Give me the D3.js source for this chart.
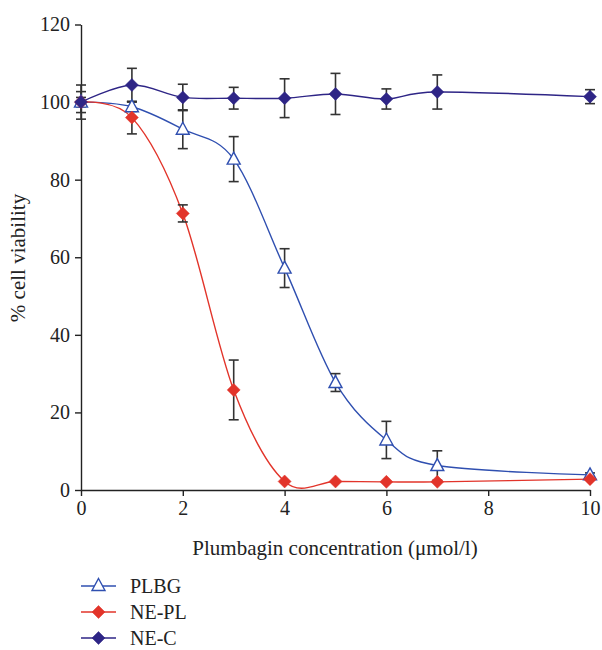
<!DOCTYPE html>
<html><head><meta charset="utf-8">
<script src="https://cdn.jsdelivr.net/npm/d3@7"></script>
<style>body{margin:0;background:#fff}svg{display:block}text{font-family:"Liberation Serif","DejaVu Serif",serif;fill:#222}</style>
</head><body>
<script>
const conc = [0,1,2,3,4,5,6,7,10];
const plbg = [100,98.8,93,85.3,57.2,27.7,12.9,6.3,3.9];
const plbgErr = [2.7,1.2,5,5.8,5,2.3,4.8,3.8,0.5];
const nepl = [100,96,71.3,25.8,2.2,2.2,2.1,2.1,2.8];
const neplErr = [1.2,4.2,2.2,7.7,0,0,0,0,0];
const nec = [100,104.4,101.2,101,101,102.1,100.8,102.6,101.4];
const necErr = [4.4,4.3,3.4,2.8,5,5.3,2.6,4.4,1.8];
const xTicks = [0,2,4,6,8,10];
const yTicks = [0,20,40,60,80,100,120];
const seriesNames = ["PLBG","NE-PL","NE-C"];
const colors = ["#2f4fb0","#e2342a","#2e2586"];

const W=602,H=650;
const svg=d3.select("body").append("svg").attr("width",W).attr("height",H);
const x=d3.scaleLinear().domain([0,10]).range([81,590]);
const y=d3.scaleLinear().domain([0,120]).range([490,24.5]);

const series=[
 {name:seriesNames[0],v:plbg,e:plbgErr,c:colors[0],m:"tri"},
 {name:seriesNames[1],v:nepl,e:neplErr,c:colors[1],m:"dia"},
 {name:seriesNames[2],v:nec,e:necErr,c:colors[2],m:"dia"}
];

const FS="20px", FT="21px";
const xa=svg.append("g").attr("transform","translate(0,490)")
 .call(d3.axisBottom(x).tickValues(xTicks).tickSize(6).tickSizeOuter(0).tickPadding(5));
const ya=svg.append("g").attr("transform","translate(81,0)")
 .call(d3.axisLeft(y).tickValues(yTicks).tickSize(6).tickSizeOuter(0).tickPadding(5));
[xa,ya].forEach(a=>{a.attr("font-size",null).attr("font-family",null);
 a.selectAll("path,line").attr("stroke","#222").attr("stroke-width",1.4);
 a.selectAll("text").style("font-size",FS).attr("fill","#222");});

svg.append("text").attr("x",335).attr("y",555).attr("text-anchor","middle").style("font-size",FT).text("Plumbagin concentration (\u03bcmol/l)");
svg.append("text").attr("transform","translate(25,258) rotate(-90)").attr("text-anchor","middle").style("font-size",FT).text("% cell viability");

const line=d3.line().x((d,i)=>x(conc[i])).y(d=>y(d)).curve(d3.curveCatmullRom.alpha(0));
series.forEach(s=>{
 svg.append("path").attr("d",line(s.v)).attr("fill","none").attr("stroke",s.c).attr("stroke-width",1.4);
});
series.forEach(s=>{
 const g=svg.append("g").attr("stroke","#333").attr("stroke-width",1.6);
 s.v.forEach((v,i)=>{
  if(!s.e[i]) return;
  const cx=x(conc[i]), t=y(v+s.e[i]), b=y(v-s.e[i]);
  g.append("line").attr("x1",cx).attr("x2",cx).attr("y1",t).attr("y2",b);
  g.append("line").attr("x1",cx-5).attr("x2",cx+5).attr("y1",t).attr("y2",t);
  g.append("line").attr("x1",cx-5).attr("x2",cx+5).attr("y1",b).attr("y2",b);
 });
});
function marker(g,m,cx,cy,c){
 if(m==="tri"){
  g.append("path").attr("d",`M${cx},${cy-7}L${cx+6.5},${cy+5}L${cx-6.5},${cy+5}Z`).attr("fill","#fff").attr("stroke",c).attr("stroke-width",1.4);
 } else {
  g.append("path").attr("d",`M${cx},${cy-6.5}L${cx+6.5},${cy}L${cx},${cy+6.5}L${cx-6.5},${cy}Z`).attr("fill",c).attr("stroke",c).attr("stroke-width",0.5);
 }
}
series.forEach(s=>{
 const g=svg.append("g");
 s.v.forEach((v,i)=>marker(g,s.m,x(conc[i]),y(v),s.c));
});
const ly=[586,612,638];
series.forEach((s,i)=>{
 const g=svg.append("g");
 g.append("line").attr("x1",81).attr("x2",116).attr("y1",ly[i]).attr("y2",ly[i]).attr("stroke",s.c).attr("stroke-width",1.4);
 marker(g,s.m,98.5,ly[i]+(s.m==="tri"?-0.5:0),s.c);
 g.append("text").attr("x",130).attr("y",ly[i]+7).style("font-size",FS).text(s.name);
});
</script>
</body></html>
